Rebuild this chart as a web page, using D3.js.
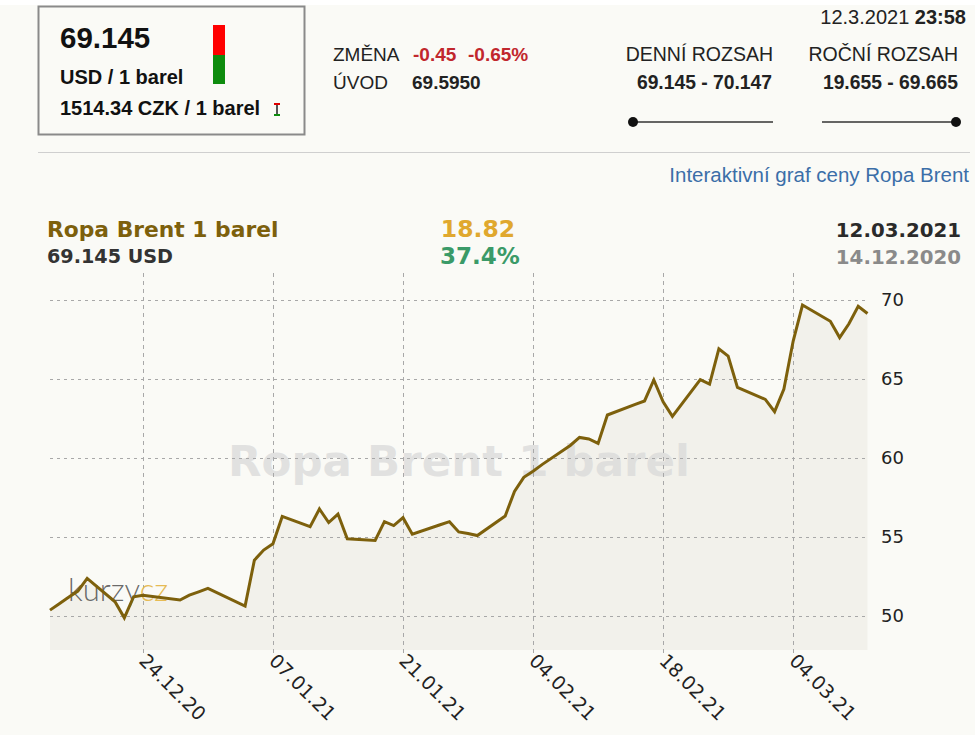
<!DOCTYPE html>
<html>
<head>
<meta charset="utf-8">
<script src="https://cdn.jsdelivr.net/npm/d3@7"></script>
<style>
  body { margin: 0; background: #fafaf6; }
  svg { display: block; }
</style>
</head>
<body>
<script>
// price data (Brent, USD per barrel)
const dates = [
  "2020-12-14", "2020-12-15", "2020-12-16", "2020-12-17", "2020-12-18",
  "2020-12-21", "2020-12-22", "2020-12-23", "2020-12-24",
  "2020-12-28", "2020-12-29", "2020-12-30", "2020-12-31",
  "2021-01-04", "2021-01-05", "2021-01-06", "2021-01-07", "2021-01-08",
  "2021-01-11", "2021-01-12", "2021-01-13", "2021-01-14", "2021-01-15",
  "2021-01-18", "2021-01-19", "2021-01-20", "2021-01-21", "2021-01-22",
  "2021-01-25", "2021-01-26", "2021-01-27", "2021-01-28", "2021-01-29",
  "2021-02-01", "2021-02-02", "2021-02-03", "2021-02-04", "2021-02-05",
  "2021-02-08", "2021-02-09", "2021-02-10", "2021-02-11", "2021-02-12",
  "2021-02-15", "2021-02-16", "2021-02-17", "2021-02-18", "2021-02-19",
  "2021-02-22", "2021-02-23", "2021-02-24", "2021-02-25", "2021-02-26",
  "2021-03-01", "2021-03-02", "2021-03-03", "2021-03-04", "2021-03-05",
  "2021-03-08", "2021-03-09", "2021-03-10", "2021-03-11", "2021-03-12"
];
const prices = [
  50.34, 50.75, 51.15, 51.55, 52.35,
  50.87, 49.85, 51.19, 51.29,
  50.98, 51.29, 51.50, 51.72,
  50.60, 53.51, 54.15, 54.55, 56.28,
  55.63, 56.75, 55.89, 56.43, 54.86,
  54.76, 55.95, 55.70, 56.20, 55.15,
  55.75, 55.95, 55.30, 55.20, 55.07,
  56.31, 57.87, 58.76, 59.15, 59.58,
  60.78, 61.29, 61.19, 60.91, 62.71,
  63.38, 63.60, 64.93, 63.55, 62.62,
  64.95, 64.67, 66.91, 66.44, 64.46,
  63.70, 62.92, 64.35, 67.40, 69.68,
  68.65, 67.62, 68.49, 69.60, 69.145
];
const yTicks = [50, 55, 60, 65, 70];
const xTicks = ["2020-12-24", "2021-01-07", "2021-01-21", "2021-02-04", "2021-02-18", "2021-03-04"];

const parseDate = d3.timeParse("%Y-%m-%d");
const fmtTick = d3.timeFormat("%d.%m.%y");
let data = dates.map((d, i) => ({ date: parseDate(d), price: prices[i] }));

const width = 975, height = 735;
const plot = { left: 50, right: 867.5, top: 273, bottom: 650 };

let svg = d3.select("body").append("svg")
    .attr("width", width)
    .attr("height", height);

svg.append("rect").attr("width", width).attr("height", 5).attr("fill", "#ffffff");

const sans = "'Liberation Sans', Arial, sans-serif";
const deja = "'DejaVu Sans', Verdana, sans-serif";

// ---- top info box
svg.append("rect")
    .attr("x", 38.5).attr("y", 6.5).attr("width", 266).attr("height", 128)
    .attr("fill", "none").attr("stroke", "#8a8a8a").attr("stroke-width", 2);

svg.append("text").text("69.145")
    .attr("x", 60).attr("y", 48)
    .attr("font-family", sans).attr("font-weight", "bold").attr("font-size", 29.5).attr("fill", "#111");
svg.append("text").text("USD / 1 barel")
    .attr("x", 60).attr("y", 84)
    .attr("font-family", sans).attr("font-weight", "bold").attr("font-size", 20).attr("fill", "#111");
svg.append("text").text("1514.34 CZK / 1 barel")
    .attr("x", 60).attr("y", 115)
    .attr("font-family", sans).attr("font-weight", "bold").attr("font-size", 20).attr("fill", "#111");

svg.append("rect").attr("x", 213).attr("y", 25).attr("width", 12).attr("height", 30).attr("fill", "#ff0000");
svg.append("rect").attr("x", 213).attr("y", 55).attr("width", 12).attr("height", 29).attr("fill", "#0e8c0e");

// little range marker next to CZK
svg.append("rect").attr("x", 274).attr("y", 103).attr("width", 6).attr("height", 2).attr("fill", "#e00000");
svg.append("rect").attr("x", 276).attr("y", 105).attr("width", 2).attr("height", 9).attr("fill", "#555");
svg.append("rect").attr("x", 274).attr("y", 114).attr("width", 6).attr("height", 2).attr("fill", "#0e8c0e");

// ---- change / open
const topText = (txt, x, y, opts = {}) => svg.append("text").text(txt)
    .attr("x", x).attr("y", y)
    .attr("font-family", sans)
    .attr("font-size", opts.size || 19)
    .attr("font-weight", opts.bold ? "bold" : "normal")
    .attr("text-anchor", opts.anchor || "start")
    .attr("fill", opts.color || "#222");

topText("ZMĚNA", 333, 61);
topText("-0.45", 413, 61, { bold: true, color: "#c1272d" });
topText("-0.65%", 468, 61, { bold: true, color: "#c1272d" });
topText("ÚVOD", 333, 89);
topText("69.5950", 412, 89, { bold: true });

topText("DENNÍ ROZSAH", 773, 61, { anchor: "end", size: 19.5 });
topText("69.145 - 70.147", 772, 89, { anchor: "end", bold: true, size: 19.3 });
topText("ROČNÍ ROZSAH", 958, 61, { anchor: "end", size: 19.5 });
topText("19.655 - 69.665", 958, 89, { anchor: "end", bold: true, size: 19.3 });

let stamp = svg.append("text").attr("x", 966).attr("y", 24)
    .attr("font-family", sans).attr("font-size", 20).attr("text-anchor", "end").attr("fill", "#222");
stamp.append("tspan").text("12.3.2021 ");
stamp.append("tspan").text("23:58").attr("font-weight", "bold");

// range sliders
svg.append("line").attr("x1", 633).attr("x2", 773).attr("y1", 122).attr("y2", 122).attr("stroke", "#333").attr("stroke-width", 1.5);
svg.append("circle").attr("cx", 633).attr("cy", 122).attr("r", 5).attr("fill", "#111");
svg.append("line").attr("x1", 822).attr("x2", 956).attr("y1", 122).attr("y2", 122).attr("stroke", "#333").attr("stroke-width", 1.5);
svg.append("circle").attr("cx", 956).attr("cy", 122).attr("r", 5).attr("fill", "#111");

// separator + link
svg.append("line").attr("x1", 38).attr("x2", 970).attr("y1", 152.5).attr("y2", 152.5).attr("stroke", "#cfcfcf");
svg.append("text").text("Interaktivní graf ceny Ropa Brent")
    .attr("x", 969).attr("y", 182).attr("text-anchor", "end")
    .attr("font-family", sans).attr("font-size", 20.5).attr("fill", "#3b6ea8");

// ---- chart header
const head = (txt, x, y, color, anchor, size) => svg.append("text").text(txt)
    .attr("x", x).attr("y", y)
    .attr("font-family", deja).attr("font-weight", "bold").attr("font-size", size)
    .attr("text-anchor", anchor).attr("fill", color);

head("Ropa Brent 1 barel", 47, 237, "#7d600c", "start", 21.8);
head("69.145 USD", 47, 263, "#333333", "start", 19.2);
head("18.82", 478, 237, "#e0a82e", "middle", 23.5);
head("37.4%", 480, 264, "#3a9a68", "middle", 23);
head("12.03.2021", 961, 237, "#2a2a2a", "end", 19.8);
head("14.12.2020", 961, 264, "#8a8a8a", "end", 19.8);

// ---- scales
let x = d3.scaleTime()
    .domain([parseDate("2020-12-14"), parseDate("2021-03-12")])
    .range([plot.left, plot.right]);
let y = d3.scaleLinear()
    .domain([50, 70])
    .range([615.5, 300]);

// area under the line
let area = d3.area()
    .x(d => x(d.date))
    .y0(plot.bottom)
    .y1(d => y(d.price));
svg.append("path").datum(data)
    .attr("d", area)
    .attr("fill", "#f2f1eb");

// watermark
svg.append("text").text("Ropa Brent 1 barel")
    .attr("x", 459).attr("y", 476).attr("text-anchor", "middle")
    .attr("font-family", deja).attr("font-weight", "bold").attr("font-size", 43.5)
    .attr("fill", "#d9d9d9").attr("fill-opacity", 0.75);

// grid
svg.append("g")
    .selectAll("line")
    .data(yTicks)
    .join("line")
    .attr("x1", plot.left).attr("x2", plot.right)
    .attr("y1", d => Math.round(y(d)) + 0.5).attr("y2", d => Math.round(y(d)) + 0.5)
    .attr("stroke", "#a8a8a8").attr("stroke-dasharray", "3,4");

svg.append("g")
    .selectAll("line")
    .data(xTicks.map(parseDate))
    .join("line")
    .attr("x1", d => Math.round(x(d)) + 0.5).attr("x2", d => Math.round(x(d)) + 0.5)
    .attr("y1", plot.top).attr("y2", plot.bottom + 7)
    .attr("stroke", "#a8a8a8").attr("stroke-dasharray", "4,4");

// logo
let logo = svg.append("text").attr("x", 68).attr("y", 601)
    .attr("font-family", "Lato, 'DejaVu Sans', sans-serif").attr("font-weight", 300).attr("font-size", 31);
logo.append("tspan").text("kurzy").attr("fill", "#444").attr("fill-opacity", 0.8);
logo.append("tspan").text("cz").attr("fill", "#e6bb55");

// price line
let line = d3.line()
    .x(d => x(d.date))
    .y(d => y(d.price));
svg.append("path").datum(data)
    .attr("d", line)
    .attr("fill", "none")
    .attr("stroke", "#7d600c")
    .attr("stroke-width", 3)
    .attr("stroke-linejoin", "miter");

// y labels
svg.append("g")
    .selectAll("text")
    .data(yTicks)
    .join("text")
    .text(d => d)
    .attr("x", 881).attr("y", d => y(d))
    .attr("dy", "0.35em")
    .attr("font-family", deja).attr("font-size", 18).attr("fill", "#222");

// x labels, rotated
svg.append("g")
    .selectAll("text")
    .data(xTicks.map(parseDate))
    .join("text")
    .text(d => fmtTick(d))
    .attr("transform", d => "translate(" + (x(d) - 5) + ",662) rotate(45)")
    .attr("font-family", deja).attr("font-size", 19).attr("fill", "#222");
</script>
</body>
</html>
